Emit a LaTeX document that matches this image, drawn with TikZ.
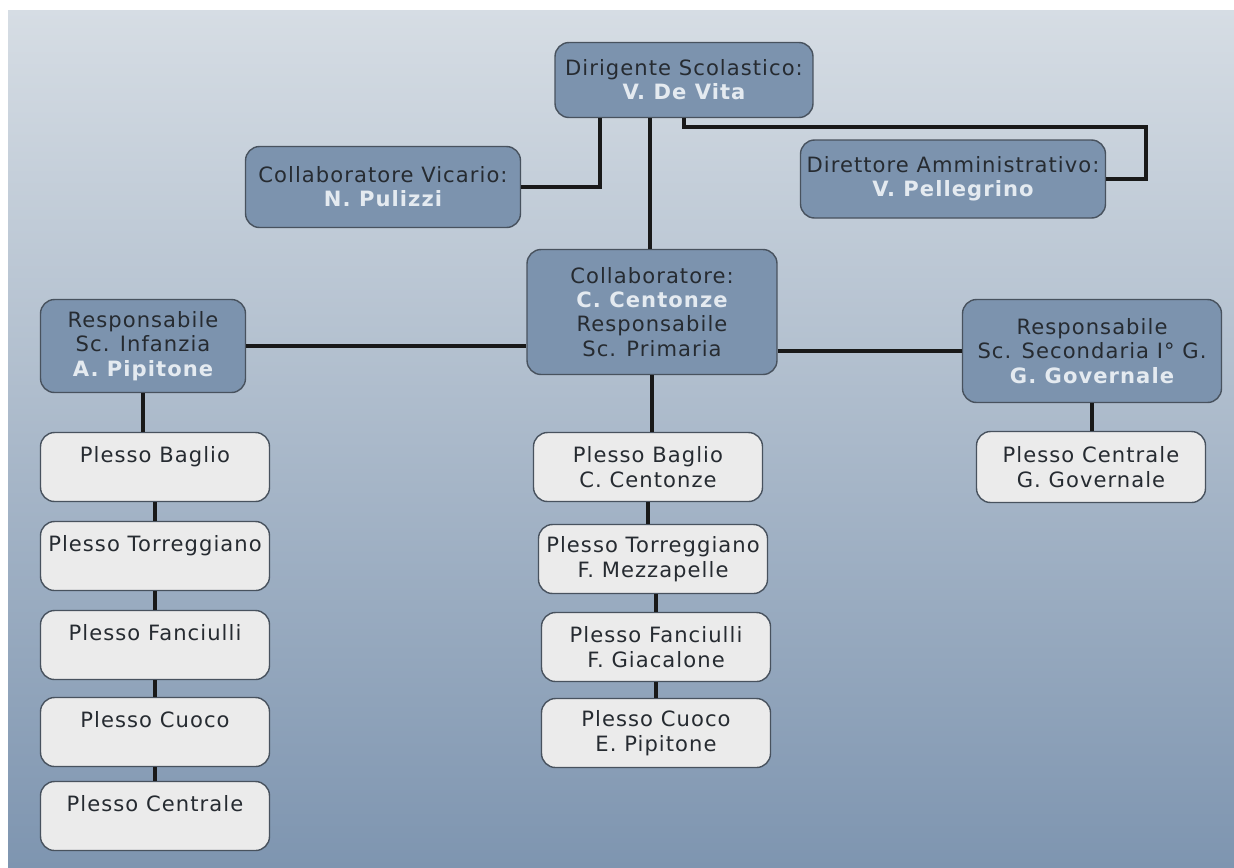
\documentclass[tikz,border=0pt]{standalone}
\usepackage{fontspec}
\setmainfont{DejaVu Sans}[LetterSpace=5]
\usepackage{xcolor}
\usepackage{tikz}
\usetikzlibrary{positioning}
\definecolor{boxblue}{HTML}{7C93AE}
\definecolor{boxedge}{HTML}{48525E}
\definecolor{nametext}{HTML}{E4EAF0}
\definecolor{darktext}{HTML}{262B31}
\definecolor{plessofill}{HTML}{EBEBEB}
\definecolor{bgtop}{HTML}{D6DDE4}
\definecolor{bgbottom}{HTML}{7E95B0}
\tikzstyle{rolenode} = [draw=boxedge, fill=boxblue, rounded corners=0.28cm, line width=0.8pt, align=center, text=darktext, font=\fontsize{12}{13.8}\selectfont, inner sep=0pt]
\tikzstyle{plessonode} = [draw=boxedge, fill=plessofill, rounded corners=0.28cm, line width=0.8pt, align=center, text=darktext, font=\fontsize{12}{14.2}\selectfont, minimum width=4.58cm, minimum height=1.38cm, inner sep=0pt]
\tikzstyle{link} = [line width=2.1pt, black!90]
\newcommand{\who}[1]{{\color{nametext}\bfseries #1}}

\begin{document}
\begin{tikzpicture}[x=0.02cm, y=-0.02cm]
\useasboundingbox (0,0) rectangle (1234,867);
\fill [top color=bgtop, bottom color=bgbottom] (8,10) rectangle (1234,867);

% direzione
\node [rolenode, minimum width=5.16cm, minimum height=1.5cm] at (684,80) (dir) {Dirigente Scolastico:\\ \who{V. De Vita}};
\node [rolenode, minimum width=5.5cm, minimum height=1.62cm] at (383,187) (vic) {Collaboratore Vicario:\\ \who{N. Pulizzi}};
\node [rolenode, minimum width=6.1cm, minimum height=1.56cm] at (953,179) (dsga) {Direttore Amministrativo:\\ \who{V. Pellegrino}};

% responsabili
\node [rolenode, minimum width=5cm, minimum height=2.5cm] at (652,312) (col) {Collaboratore:\\ \who{C. Centonze}\\ Responsabile\\ Sc. Primaria};
\node [rolenode, minimum width=4.1cm, minimum height=1.86cm] at (143,346) (inf) {Responsabile\\ Sc. Infanzia\\ \who{A. Pipitone}};
\node [rolenode, minimum width=5.18cm, minimum height=2.06cm] at (1092,351) (sec) {Responsabile\\ Sc. Secondaria I° G.\\ \who{G. Governale}};

% plessi infanzia
\node [plessonode] at (155,467) (lb1) {Plesso Baglio\\~};
\node [plessonode] at (155,556) (lb2) {Plesso Torreggiano\\~};
\node [plessonode] at (155,645) (lb3) {Plesso Fanciulli\\~};
\node [plessonode] at (155,732) (lb4) {Plesso Cuoco\\~};
\node [plessonode] at (155,816) (lb5) {Plesso Centrale\\~};

% plessi primaria
\node [plessonode] at (648,467) (mb1) {Plesso Baglio\\ C. Centonze};
\node [plessonode] at (653,559) (mb2) {Plesso Torreggiano\\ F. Mezzapelle};
\node [plessonode] at (656,647) (mb3) {Plesso Fanciulli\\ F. Giacalone};
\node [plessonode] at (656,733) (mb4) {Plesso Cuoco\\ E. Pipitone};

% plessi secondaria
\node [plessonode, minimum height=1.42cm] at (1091,467) (rb1) {Plesso Centrale\\ G. Governale};

% dirigente -> staff
\path [draw, link] ([xshift=-0.68cm]dir.south) to ([xshift=-0.68cm]dir.south |- col.north);
\path [draw, link] ([xshift=-1.68cm]dir.south) |- (vic.east);
\path [draw, link] (dir.south) -- ++(0,9) -| ([xshift=0.8cm]dsga.east) -- (dsga.east);

% collaboratore -> responsabili
\path [draw, link] (inf.east) to (inf.east -| col.west);
\path [draw, link] (col.east |- sec.west) to (sec.west);

% responsabili -> plessi
\path [draw, link] (inf.south) to (inf.south |- lb1.north);
\path [draw, link] (lb1) to (lb2);
\path [draw, link] (lb2) to (lb3);
\path [draw, link] (lb3) to (lb4);
\path [draw, link] (lb4) to (lb5);
\path [draw, link] (col.south) to (col.south |- mb1.north);
\path [draw, link] (mb1.south) to (mb1.south |- mb2.north);
\path [draw, link] ([xshift=0.06cm]mb2.south) to ([xshift=0.06cm]mb2.south |- mb3.north);
\path [draw, link] (mb3) to (mb4);
\path [draw, link] (sec.south) to (sec.south |- rb1.north);
\end{tikzpicture}
\end{document}
